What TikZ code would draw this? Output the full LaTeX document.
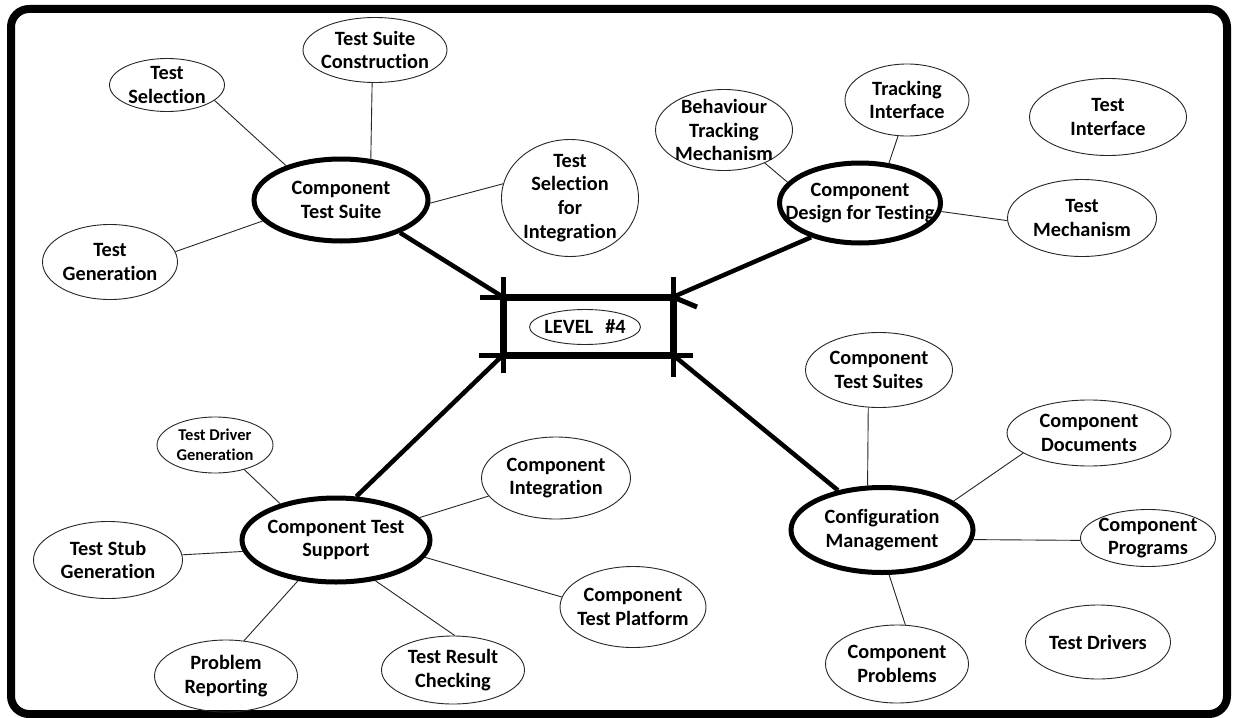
\documentclass[tikz,border=0pt]{standalone}
\usepackage{fontspec}
\setmainfont{Carlito}[Ligatures=NoCommon]
\usetikzlibrary{shapes.geometric,calc}

% an ellipse with its caption set over it
\newcommand\bub[6][bubble]{%
  \node[#1, minimum width=#4, minimum height=#5] (#2) at (#3) {};
  \node[btxt] (#2-t) at (#2) {#6};}

\begin{document}
\begin{tikzpicture}[x=1pt,y=-1pt,
  bubble/.style={ellipse, draw=black!85, line width=0.9pt, inner sep=0pt},
  hub/.style={ellipse, draw=black, line width=5pt, inner sep=0pt},
  btxt/.style={align=center, inner sep=0pt,
    font=\fontsize{20.3}{23.8}\selectfont\bfseries},
  small/.style={font=\fontsize{16.5}{20}\selectfont\bfseries},
  link/.style={draw=black!85, line width=0.9pt},
  feed/.style={draw=black, line width=4.5pt},
  tick/.style={draw=black, line width=5pt}]

\useasboundingbox (0,0) rectangle (1233,717);
\fill[white] (0,0) rectangle (1233,717);

% outer frame
\draw[line width=8pt, rounded corners=18pt] (11,9) rectangle (1227,714);

% central box
\node[draw, line width=7pt, minimum width=170, minimum height=58,
      inner sep=0pt, outer sep=0pt] (lvl) at (588,326) {};
\node[bubble, minimum width=111, minimum height=35] (lvl-e) at (585,327) {};
\node[btxt] (lvl-t) at (lvl-e) {LEVEL\hspace{12pt}\#4};

% crossing strokes at the box corners
\draw[tick] ($(lvl.north west)+(-23,0)$) -- (lvl.north west) -- ($(lvl.north west)+(0,-20)$);
\draw[tick] (lvl.north east) -- ($(lvl.north east)+(0,-20)$);
\draw[tick] (lvl.north east) -- ($(lvl.north east)+(24,10)$);
\draw[tick] ($(lvl.south west)+(-24,0)$) -- (lvl.south west) -- ($(lvl.south west)+(0,18)$);
\draw[tick] ($(lvl.south east)+(20,0)$) -- (lvl.south east) -- ($(lvl.south east)+(0,22)$);

% hubs
\bub[hub]{cts}{341,200}{174}{82}{Component\\Test Suite}
\bub[hub]{cdt}{860,203}{161}{80}{Component\\Design for Testing}
\bub[hub]{csup}{336,540}{188}{84}{Component Test\\Support}
\bub[hub]{cm}{882,530}{182}{85}{Configuration\\Management}

% leaves of Component Test Suite
\bub{tsel}{167,85}{115}{53}{Test\\Selection}
\bub{tsc}{375,50}{144}{65}{Test Suite\\Construction}
\bub{tsi}{570,198}{137}{117}{Test\\Selection\\for\\Integration}
\bub{tgen}{110,262}{135}{75}{Test\\Generation}

% leaves of Component Design for Testing
\bub{btm}{724,130}{137}{81}{Behaviour\\Tracking\\Mechanism}
\bub{tif}{907,100}{124}{72}{Tracking\\Interface}
\bub{tint}{1108,117}{157}{77}{Test\\Interface}
\bub{tmech}{1082,218}{149}{77}{Test\\Mechanism}

% leaves of Configuration Management
\bub{ctss}{879,370}{147}{75}{Component\\Test Suites}
\bub{cdoc}{1089,433}{164}{66}{Component\\Documents}
\bub{cprog}{1148,538}{135}{57}{Component\\Programs}
\bub{cprob}{897,664}{143}{78}{Component\\Problems}
\bub{tdrv}{1098,642}{145}{74}{Test Drivers}

% leaves of Component Test Support
\node[bubble, minimum width=116, minimum height=56] (tdg) at (215,445) {};
\node[btxt, small] (tdg-t) at (tdg) {Test Driver\\Generation};
\bub{cint}{556,478}{149}{82}{Component\\Integration}
\bub{tsg}{108,560}{149}{77}{Test Stub\\Generation}
\bub{ctp}{633,607}{146}{81}{Component\\Test Platform}
\bub{prep}{226,676}{143}{72}{Problem\\Reporting}
\bub{trc}{453,670}{143}{68}{Test Result\\Checking}

% thin links
\draw[link] (tsel.-18) -- (cts.148);
\draw[link] (tsc.-95) -- (cts.54);
\draw[link] (tsi.168) -- (cts.-2);
\draw[link] (tgen.9) -- (cts.-165);

\draw[link] (btm.-39) -- (cdt.164);
\draw[link] (tif.-104) -- (cdt.54);
\draw[link] (tmech.182) -- (cdt.-6);

\draw[link] (ctss.-106) -- (cm.108);
\draw[link] (cdoc.-163) -- (cm.22);
\draw[link] (cprog.182) -- (cm.-6);
\draw[link] (cprob.78) -- (cm.-81);

\draw[link] (tdg.-40) -- (csup.147);
\draw[link] (cint.195) -- (csup.15);
\draw[link] (tsg.4) -- (csup.187);
\draw[link] (ctp.172) -- (csup.-11);
\draw[link] (prep.63) -- (csup.-133);
\draw[link] (trc.87) -- (csup.-46);

% heavy feeds into the central box
\draw[feed] (cts.-29) -- (lvl.north west);
\draw[feed] (cdt.-145) -- (lvl.north east);
\draw[feed] (csup.65) -- (lvl.south west);
\draw[feed] (cm.138) -- (lvl.south east);
\end{tikzpicture}
\end{document}
